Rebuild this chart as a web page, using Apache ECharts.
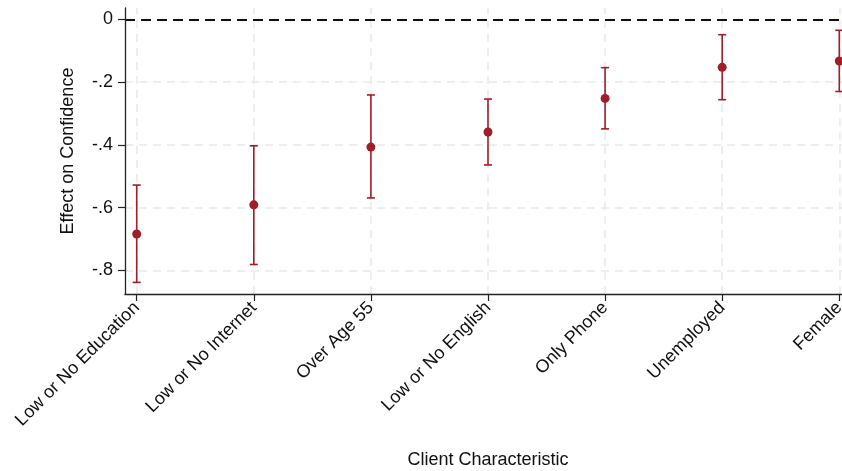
<!DOCTYPE html>
<html>
<head>
<meta charset="utf-8">
<script src="https://cdn.jsdelivr.net/npm/echarts@6/dist/echarts.min.js"></script>
<style>
  html, body { margin: 0; padding: 0; background: #fff; }
  #chart { width: 842px; height: 471px; }
</style>
</head>
<body>
<div id="chart"></div>
<script>
// Client characteristics (x positions 1..7)
const categories = [
  'Low or No Education', 'Low or No Internet', 'Over Age 55',
  'Low or No English', 'Only Phone', 'Unemployed', 'Female'
];
// Point estimates and 95% confidence bounds
const estimates = [-0.684, -0.591, -0.407, -0.359, -0.252, -0.153, -0.133];
const lowerCI   = [-0.838, -0.781, -0.569, -0.464, -0.349, -0.256, -0.230];
const upperCI   = [-0.528, -0.403, -0.241, -0.254, -0.154, -0.049, -0.035];
// Y tick values
const yTicks = [-0.8, -0.6, -0.4, -0.2, 0];

const FONT = "'Liberation Sans', Arial, Helvetica, sans-serif";
const FS = 18;
const RED = '#a11d27';

const xs = categories.map((_, i) => i + 1);
const pointData = xs.map((x, i) => [x, estimates[i]]);
const barData = xs.map((x, i) => [x, lowerCI[i], upperCI[i]]);

const fmtY = v => {
  if (Math.abs(v) < 1e-9) return '0';
  return (v < 0 ? '-' : '') + Math.abs(v).toFixed(1).replace(/^0/, '');
};

const gridStyle = () => ({ color: '#e9e9e9', width: 1.5, type: [8, 6] });

const chart = echarts.init(document.getElementById('chart'), null, { renderer: 'canvas' });
chart.setOption({
  animation: false,
  backgroundColor: '#fff',
  grid: { left: 125, right: -9, top: 8, bottom: 177, outerBoundsMode: 'none', containLabel: false },
  xAxis: {
    type: 'value',
    min: 0.9,
    max: 7.1,
    name: 'Client Characteristic',
    nameLocation: 'middle',
    nameGap: 157,
    nameTextStyle: { fontFamily: FONT, fontSize: FS, color: '#111' },
    axisLine: { show: true, onZero: false, lineStyle: { color: '#222', width: 1.3 } },
    axisTick: { show: true, length: 7, customValues: xs, lineStyle: { color: '#222', width: 1.2 } },
    axisLabel: {
      customValues: xs,
      rotate: 45,
      margin: 11,
      fontFamily: FONT, fontSize: FS, color: '#111',
      formatter: v => categories[Math.round(v) - 1] || ''
    },
    splitLine: { show: false }
  },
  yAxis: {
    type: 'value',
    min: -0.875,
    max: 0.036,
    name: 'Effect on Confidence',
    nameLocation: 'middle',
    nameGap: 48,
    nameTextStyle: { fontFamily: FONT, fontSize: FS, color: '#111' },
    axisLine: { show: true, onZero: false, lineStyle: { color: '#222', width: 1.3 } },
    axisTick: { show: true, length: 7, customValues: yTicks, lineStyle: { color: '#222', width: 1.2 } },
    axisLabel: {
      customValues: yTicks,
      margin: 12,
      fontFamily: FONT, fontSize: FS, color: '#111',
      formatter: fmtY
    },
    splitLine: { show: false }
  },
  series: [
    {
      // background grid and the zero reference line
      type: 'line',
      data: [],
      silent: true,
      z: 0,
      zlevel: 0,
      markLine: {
        silent: true,
        symbol: 'none',
        z: 0,
        label: { show: false },
        data: [
          ...xs.map(x => ({ xAxis: x, lineStyle: gridStyle() })),
          ...yTicks.filter(v => v !== 0).map(v => ({ yAxis: v, lineStyle: gridStyle() })),
          { yAxis: 0, lineStyle: { color: '#111', width: 2, type: [10, 6] } }
        ]
      }
    },
    {
      // confidence interval whiskers with caps
      type: 'custom',
      data: barData,
      encode: { x: 0, y: [1, 2] },
      renderItem: (params, api) => {
        const x = api.value(0);
        const lo = api.coord([x, api.value(1)]);
        const hi = api.coord([x, api.value(2)]);
        const cap = 4;
        const style = { stroke: RED, lineWidth: 1.6, fill: null };
        return {
          type: 'group',
          children: [
            { type: 'line', shape: { x1: lo[0], y1: lo[1], x2: hi[0], y2: hi[1] }, style },
            { type: 'line', shape: { x1: lo[0] - cap, y1: lo[1], x2: lo[0] + cap, y2: lo[1] }, style },
            { type: 'line', shape: { x1: hi[0] - cap, y1: hi[1], x2: hi[0] + cap, y2: hi[1] }, style }
          ]
        };
      },
      z: 5
    },
    {
      type: 'scatter',
      data: pointData,
      symbol: 'circle',
      symbolSize: 9,
      itemStyle: { color: RED, opacity: 1 },
      z: 6
    }
  ]
});
</script>
</body>
</html>
